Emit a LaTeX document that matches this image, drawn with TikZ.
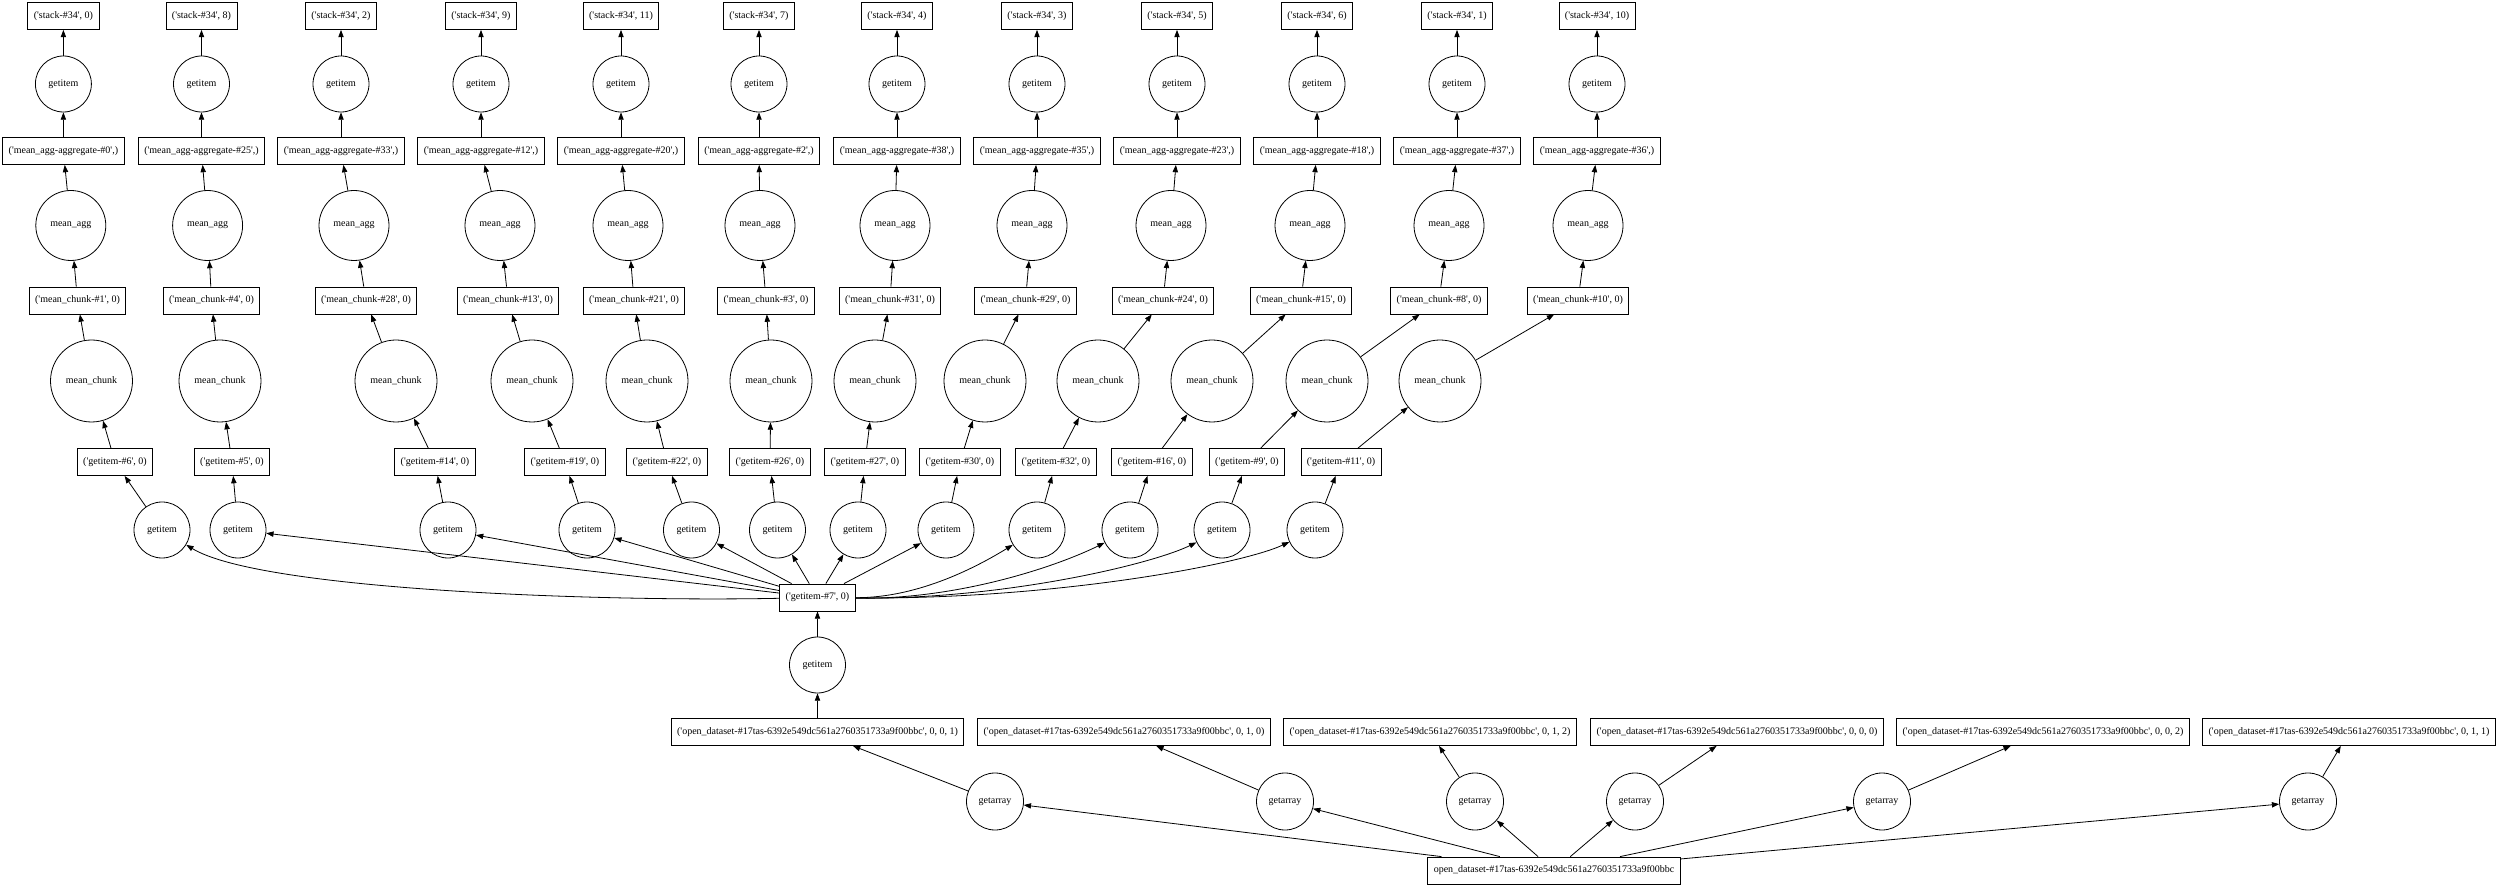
\documentclass[tikz,border=0pt]{standalone}
\usepackage{fontspec}
\setmainfont{Liberation Serif}
\usetikzlibrary{arrows.meta}

\newcommand{\sq}{\textquotesingle}
\newcommand{\odkey}{open\_dataset-\#17tas-6392e549dc561a2760351733a9f00bbc}

\tikzset{
  datbox/.style={draw, rectangle, inner xsep=4.5pt, inner ysep=0pt, minimum height=20.25pt, font=\fontsize{7.5}{9}\selectfont},
  fnc/.style={draw, circle, inner sep=0pt, minimum size=42pt, font=\fontsize{7.5}{9}\selectfont},
  dep/.style={-{Triangle[length=5.5pt,width=4pt]}}
}

\begin{document}
\begin{tikzpicture}[x=0.75pt,y=0.75pt,yscale=-1,xscale=1,line width=0.6pt]
    \useasboundingbox (0,0) rectangle (2500,887);

    % Chains: stack <- getitem <- aggregate <- mean_agg <- mean_chunk <- getitem
    \foreach \c/\xa/\xb/\xc/\xd/\xe/\xf/\s/\ag/\mc/\gn in {%
1/63.4/70.8/77.5/91.5/115/162/0/0/1/6,%
2/201.5/207.6/211.5/220/232/238/8/25/4/5,%
3/341/354/366/396/435/448/2/33/28/14,%
4/481/500/508/532/565/587/9/12/13/19,%
5/621/628/634/647/667/691.5/11/20/21/22,%
6/759/760/766/771/770/777.5/7/2/3/26,%
7/897/895/890/875/865/858/4/38/31/27,%
8/1037/1032/1025.5/985/960/946/3/35/29/30,%
9/1177/1171/1163/1098/1056/1037/5/23/24/32,%
10/1317/1310/1301/1212/1152/1130/6/18/15/16,%
11/1457/1449/1439/1327/1247/1222/1/37/8/9,%
12/1597/1588/1578/1440/1341/1315/10/36/10/11%
    }{
      \node[datbox] (stk\c) at (\xa,16) {(\sq stack-\#34\sq, \s)};
      \node[fnc] (gtop\c) at (\xa,84) {getitem};
      \node[datbox] (agg\c) at (\xa,151) {(\sq mean\_agg-aggregate-\#\ag\sq,)};
      \node[fnc, minimum size=52.5pt] (magg\c) at (\xb,225.5) {mean\_agg};
      \node[datbox] (mcbox\c) at (\xc,300.5) {(\sq mean\_chunk-\#\mc\sq, 0)};
      \node[fnc, minimum size=61.5pt] (mchunk\c) at (\xd,381) {mean\_chunk};
      \node[datbox] (gibox\c) at (\xe,462) {(\sq getitem-\#\gn\sq, 0)};
      \node[fnc] (gi\c) at (\xf,530) {getitem};
      \draw[dep] (gtop\c) -- (stk\c);
      \draw[dep] (agg\c) -- (gtop\c);
      \draw[dep] (magg\c) -- (agg\c);
      \draw[dep] (mcbox\c) -- (magg\c);
      \draw[dep] (mchunk\c) -- (mcbox\c);
      \draw[dep] (gibox\c) -- (mchunk\c);
      \draw[dep] (gi\c) -- (gibox\c);
    }

    % Shared getitem
    \node[datbox] (g7) at (817.5,597.5) {(\sq getitem-\#7\sq, 0)};
    \node[fnc] (gmid) at (817.5,665) {getitem};

    % Tuple boxes and getarray
    \node[datbox] (odt1) at (817.5,732) {(\sq\odkey\sq, 0, 0, 1)};
    \node[datbox] (odt2) at (1124,732) {(\sq\odkey\sq, 0, 1, 0)};
    \node[datbox] (odt3) at (1430,732) {(\sq\odkey\sq, 0, 1, 2)};
    \node[datbox] (odt4) at (1737,732) {(\sq\odkey\sq, 0, 0, 0)};
    \node[datbox] (odt5) at (2043,732) {(\sq\odkey\sq, 0, 0, 2)};
    \node[datbox] (odt6) at (2349,732) {(\sq\odkey\sq, 0, 1, 1)};
    \node[fnc, minimum size=42.75pt] (gar1) at (995,801.5) {getarray};
    \node[fnc, minimum size=42.75pt] (gar2) at (1285,801.5) {getarray};
    \node[fnc, minimum size=42.75pt] (gar3) at (1475,801.5) {getarray};
    \node[fnc, minimum size=42.75pt] (gar4) at (1635,801.5) {getarray};
    \node[fnc, minimum size=42.75pt] (gar5) at (1882,801.5) {getarray};
    \node[fnc, minimum size=42.75pt] (gar6) at (2308,801.5) {getarray};
    \node[datbox] (odbase) at (1554,870.5) {\odkey};

    \foreach \i in {1,...,6} {
      \draw[dep] (odbase) -- (gar\i);
      \draw[dep] (gar\i) -- (odt\i);
    }
    \draw[dep] (odt1) -- (gmid);
    \draw[dep] (gmid) -- (g7);

    % Fan out of ('getitem-#7', 0)
    \foreach \i in {2,...,8}
      \draw[dep] (g7) -- (gi\i);
    \draw[dep] (g7) .. controls (600,602) and (260,590) .. (gi1);
    \draw[dep] (g7) .. controls (920,598) and (980,565) .. (gi9);
    \draw[dep] (g7) .. controls (960,600) and (1060,565) .. (gi10);
    \draw[dep] (g7) .. controls (1000,600) and (1150,565) .. (gi11);
    \draw[dep] (g7) .. controls (1050,600) and (1240,565) .. (gi12);
\end{tikzpicture}
\end{document}
